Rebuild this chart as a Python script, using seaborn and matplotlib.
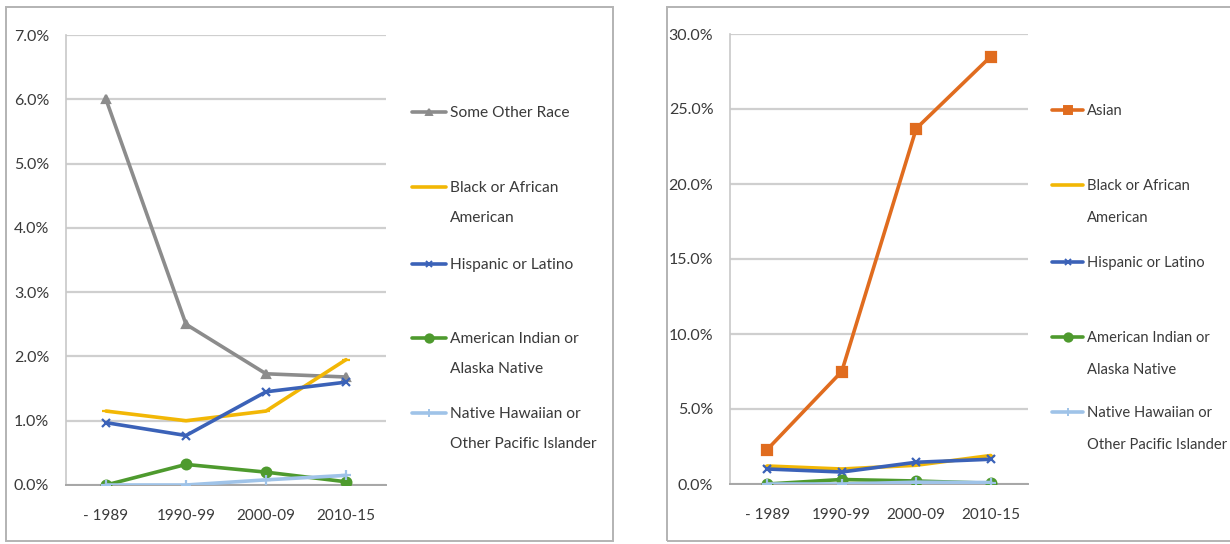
import matplotlib
matplotlib.use("Agg")
import matplotlib.pyplot as plt
from matplotlib.lines import Line2D
from matplotlib.patches import Rectangle
from matplotlib.ticker import FuncFormatter, FixedLocator
import seaborn as sns
import pandas as pd

# ---- data (percent) ----
periods = ["- 1989", "1990-99", "2000-09", "2010-15"]

left_names = ["Some Other Race", "Black or African\nAmerican", "Hispanic or Latino",
              "American Indian or\nAlaska Native", "Native Hawaiian or\nOther Pacific Islander"]
some_other = [6.0, 2.5, 1.73, 1.68]
black_l = [1.15, 1.0, 1.15, 1.95]
hisp_l = [0.97, 0.77, 1.45, 1.60]
aian_l = [0.0, 0.32, 0.20, 0.05]
nhpi_l = [0.0, 0.0, 0.08, 0.15]

right_names = ["Asian", "Black or African\nAmerican", "Hispanic or Latino",
               "American Indian or\nAlaska Native", "Native Hawaiian or\nOther Pacific Islander"]
asian = [2.3, 7.5, 23.7, 28.5]
black_r = [1.2, 1.0, 1.25, 1.9]
hisp_r = [1.0, 0.8, 1.45, 1.65]
aian_r = [0.0, 0.3, 0.2, 0.05]
nhpi_r = [0.0, 0.0, 0.12, 0.1]

left_ticks = [0, 1, 2, 3, 4, 5, 6, 7]
right_ticks = [0, 5, 10, 15, 20, 25, 30]

# ---- styles ----
sns.set_style("white")
plt.rcParams["font.family"] = ["Lato", "DejaVu Sans"]

GRAY = "#8c8c8c"
GOLD = "#f2b705"
BLUE = "#3b62b8"
GREEN = "#4e9a2e"
LIGHTBLUE = "#9fc3e8"
ORANGE = "#e06c1f"
TEXT = "#3a3a3a"

left_styles = [(GRAY, "^", 6), (GOLD, "_", 6), (BLUE, "x", 6), (GREEN, "o", 7), (LIGHTBLUE, "+", 7)]
right_styles = [(ORANGE, "s", 7), (GOLD, "_", 6), (BLUE, "x", 6), (GREEN, "o", 7), (LIGHTBLUE, "+", 7)]

W, H = 1230, 544
fig = plt.figure(figsize=(W / 100, H / 100), dpi=100)
fig.patch.set_facecolor("white")


def px_axes(x0, y_top, x1, y_bot):
    return fig.add_axes([x0 / W, 1 - y_bot / H, (x1 - x0) / W, (y_bot - y_top) / H])


def panel(ax, names, series, styles, ticks):
    pos = list(range(len(periods)))
    for name, vals, (col, mk, ms) in zip(names, series, styles):
        df = pd.DataFrame({"x": pos, "y": vals})
        sns.lineplot(data=df, x="x", y="y", ax=ax, color=col, lw=2.6,
                     marker=mk, markersize=ms, markeredgecolor=col,
                     markerfacecolor=col, markeredgewidth=1.6, zorder=3)
    ax.set_xlim(-0.5, len(periods) - 0.5)
    ax.set_ylim(ticks[0], ticks[-1])
    ax.set_xlabel("")
    ax.set_ylabel("")
    ax.set_yticks(ticks)
    ax.yaxis.set_major_formatter(FuncFormatter(lambda v, p: f"{v:.1f}%"))
    ax.set_xticks(pos)
    ax.set_xticklabels(periods)
    ax.xaxis.set_minor_locator(FixedLocator([p - 0.5 for p in range(len(periods) + 1)]))
    ax.tick_params(axis="x", which="major", length=0, pad=17, labelsize=11, labelcolor=TEXT)
    ax.tick_params(axis="x", which="minor", length=5, width=1, color="#a6a6a6", direction="out")
    ax.tick_params(axis="y", length=0, pad=12, labelsize=11.5, labelcolor=TEXT)
    ax.grid(axis="y", color="#cfcfcf", lw=1.6)
    ax.set_axisbelow(True)
    for s in ["top", "right"]:
        ax.spines[s].set_visible(False)
    ax.spines["left"].set_color("#c8c8c8")
    ax.spines["left"].set_linewidth(1.2)
    ax.spines["bottom"].set_color("#a6a6a6")
    ax.spines["bottom"].set_linewidth(1.4)
    ax.set_facecolor("none")


def legend(names, styles, x_line0, x_line1, x_text, ys, size):
    ls = 30 / (1.081 * size)
    for name, (col, mk, ms), y in zip(names, styles, ys):
        yf = 1 - y / H
        fig.add_artist(Line2D([x_line0 / W, x_line1 / W], [yf, yf], color=col, lw=2.6))
        fig.add_artist(Line2D([(x_line0 + x_line1) / 2 / W], [yf], color=col, marker=mk,
                              markersize=ms - 1, markeredgewidth=1.4, markerfacecolor=col,
                              markeredgecolor=col, lw=0))
        fig.text(x_text / W, yf + 6 / H, name, ha="left", va="top", fontsize=size,
                 color=TEXT, linespacing=ls)


# panel frames
for x0, x1 in [(6, 613), (667, 1236)]:
    fig.add_artist(Rectangle((x0 / W, 1 - 541 / H), (x1 - x0) / W, (541 - 7) / H,
                             transform=fig.transFigure, fill=False, ec="#b3b3b3", lw=1.4))

axL = px_axes(66, 35, 386, 485)
panel(axL, left_names, [some_other, black_l, hisp_l, aian_l, nhpi_l], left_styles, left_ticks)

axR = px_axes(730, 34, 1028, 484)
panel(axR, right_names, [asian, black_r, hisp_r, aian_r, nhpi_r], right_styles, right_ticks)

legend(left_names, left_styles, 412, 446, 450, [112, 187, 264, 338, 413], 11.2)
legend(right_names, right_styles, 1052, 1083, 1087, [110, 185, 262, 337, 412], 10.6)

fig.savefig("out.png", dpi=100, facecolor="white")
